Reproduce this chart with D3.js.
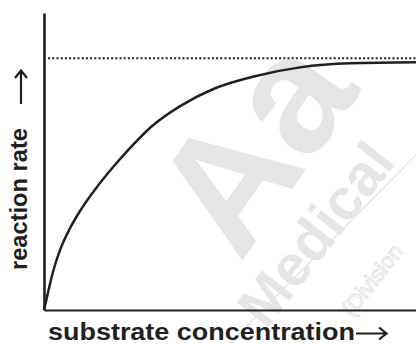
<!DOCTYPE html>
<html lang="en">
<head>
<meta charset="utf-8">
<style>
  body { margin: 0; background: #fff; }
  svg { display: block; font-family: "Liberation Sans", Arial, sans-serif; }
  .axis path { stroke: #231f20; }
  .lbl { font-weight: bold; fill: #231f20; font-size: 23px; }
</style>
</head>
<body>
<svg width="416" height="344"></svg>
<script src="https://cdnjs.cloudflare.com/ajax/libs/d3/7.8.5/d3.min.js"></script>
<script>
// substrate concentration (0-100, arbitrary units) vs reaction rate (% of Vmax)
var substrate = [0, 1.1, 2.4, 4.3, 7.0, 10.2, 14.0, 18.3, 23.1, 29.0, 36.6, 46.0, 56.7, 68.8, 82.3, 100];
var rate      = [0, 7.1, 15.1, 23.8, 32.5, 40.5, 48.4, 56.3, 64.3, 73.0, 81.0, 88.1, 92.9, 96.4, 98.0, 98.4];
var vmax = 100;
var yTop = 118;   // y axis runs a bit above Vmax

var xLabel = "substrate concentration";
var yLabel = "reaction rate";

var svg = d3.select("svg");
var ink = "#231f20";

var x = d3.scaleLinear().domain([0, 100]).range([44, 416]);
var y = d3.scaleLinear().domain([0, yTop]).range([310, 13]);

// watermark, very faint
var wm = svg.append("g").attr("fill", "#e4e5e7").attr("font-family", "'Liberation Sans', Arial, sans-serif").attr("font-weight", "bold");
wm.append("text")
    .attr("transform", "translate(240,264) rotate(-55)")
    .attr("font-size", 166)
    .text("Aa");
wm.append("text")
    .attr("transform", "translate(266,330) rotate(-52)")
    .attr("font-size", 58)
    .text("Medical");
wm.append("text")
    .attr("transform", "translate(352,318) rotate(-52)")
    .attr("font-size", 22)
    .attr("font-weight", "normal")
    .attr("fill", "none")
    .attr("stroke", "#dcdde0")
    .attr("stroke-width", 0.8)
    .text("(Division");
wm.append("line")
    .attr("x1", 230).attr("y1", 343).attr("x2", 416).attr("y2", 155)
    .attr("stroke", "#e4e5e7").attr("stroke-width", 1.5);

// Vmax dotted line
svg.append("line")
    .attr("x1", x(1.1)).attr("x2", x(100))
    .attr("y1", y(vmax)).attr("y2", y(vmax))
    .attr("stroke", ink)
    .attr("stroke-width", 2)
    .attr("stroke-dasharray", "2,2.2");

// axes, bare lines
svg.append("g").attr("class", "axis")
    .attr("transform", "translate(0," + y(0) + ")")
    .call(d3.axisBottom(x).ticks(0).tickSizeOuter(0))
    .select("path").attr("stroke-width", 2);

svg.append("g").attr("class", "axis")
    .attr("transform", "translate(" + x(0) + ",0)")
    .call(d3.axisLeft(y).ticks(0).tickSizeOuter(0))
    .select("path").attr("stroke-width", 2.6);

// the curve
var line = d3.line()
    .x(function(d, i) { return x(substrate[i]); })
    .y(function(d) { return y(d); })
    .curve(d3.curveMonotoneX);

svg.append("path")
    .datum(rate)
    .attr("d", line)
    .attr("fill", "none")
    .attr("stroke", ink)
    .attr("stroke-width", 2.5);

// x label + arrow
svg.append("text")
    .attr("class", "lbl")
    .attr("x", 48).attr("y", 340)
    .attr("textLength", 307)
    .attr("lengthAdjust", "spacingAndGlyphs")
    .text(xLabel);

svg.append("path")
    .attr("d", "M356,333.5 H386 M379,327.5 L386.5,333.5 L379,339.5")
    .attr("fill", "none").attr("stroke", ink).attr("stroke-width", 2.2);

// y label + arrow
svg.append("text")
    .attr("class", "lbl")
    .attr("transform", "translate(27,270) rotate(-90)")
    .attr("textLength", 142)
    .attr("lengthAdjust", "spacingAndGlyphs")
    .text(yLabel);

svg.append("path")
    .attr("d", "M21,104 V71 M15,78 L21,70.5 L27,78")
    .attr("fill", "none").attr("stroke", ink).attr("stroke-width", 2.2);
</script>
</body>
</html>
